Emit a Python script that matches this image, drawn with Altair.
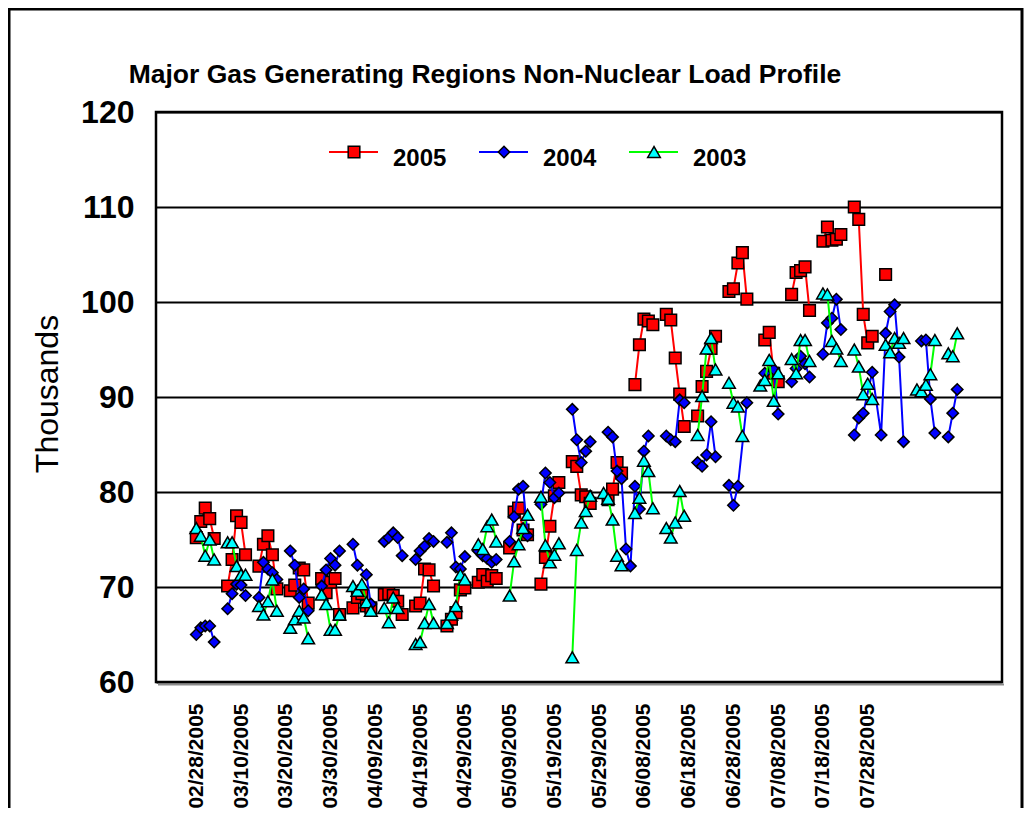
import altair as alt
import pandas as pd

FONT = "Liberation Sans"
TITLE = "Major Gas Generating Regions Non-Nuclear Load Profile"
Y_TITLE = "Thousands"

# ---- x tick labels (every 10 days) ----
tick_dates = ["02/28", "03/10", "03/20", "03/30", "04/09", "04/19", "04/29", "05/09",
              "05/19", "05/29", "06/08", "06/18", "06/28", "07/08", "07/18", "07/28"]
y_ticks = [60, 70, 80, 90, 100, 110, 120]

# ---- 2005 ----
dates_2005 = [
    "02/28", "03/01", "03/02", "03/03", "03/04",
    "03/07", "03/08", "03/09", "03/10", "03/11",
    "03/14", "03/15", "03/16", "03/17", "03/18",
    "03/21", "03/22", "03/23", "03/24", "03/25",
    "03/28", "03/29", "03/30", "03/31", "04/01",
    "04/04", "04/05", "04/06", "04/07", "04/08",
    "04/11", "04/12", "04/13", "04/14", "04/15",
    "04/18", "04/19", "04/20", "04/21", "04/22",
    "04/25", "04/26", "04/27", "04/28", "04/29",
    "05/02", "05/03", "05/04", "05/05", "05/06",
    "05/09", "05/10", "05/11", "05/12", "05/13",
    "05/16", "05/17", "05/18", "05/19", "05/20",
    "05/23", "05/24", "05/25", "05/26", "05/27",
    "05/31", "06/01", "06/02", "06/03",
    "06/06", "06/07", "06/08", "06/09", "06/10",
    "06/13", "06/14", "06/15", "06/16", "06/17",
    "06/20", "06/21", "06/22", "06/23", "06/24",
    "06/27", "06/28", "06/29", "06/30", "07/01",
    "07/05", "07/06", "07/07", "07/08",
    "07/11", "07/12", "07/13", "07/14", "07/15",
    "07/18", "07/19", "07/20", "07/21", "07/22",
    "07/25", "07/26", "07/27", "07/28", "07/29",
    "08/01"]
values_2005 = [
    75.2, 76.9, 78.3, 77.2, 75.1,
    70.1, 72.9, 77.5, 76.8, 73.4,
    72.2, 74.5, 75.4, 73.4, 69.8,
    69.6, 70.2, 72.0, 71.8, 68.3,
    70.9, 69.4, 70.5, 70.9, 67.1,
    67.8, 68.9, 69.3, 68.0, 67.8,
    69.2, 69.3, 69.1, 68.5, 67.1,
    68.0, 68.3, 71.9, 71.8, 70.1,
    65.9, 66.6, 67.3, 69.7, 69.9,
    70.5, 71.3, 70.6, 71.2, 70.9,
    74.1, 77.9, 78.3, 76.0, 75.5,
    70.3, 73.1, 76.4, 79.6, 81.0,
    83.2, 82.7, 79.7, 79.5, 78.8,
    79.2, 80.3, 83.1, 82.0,
    91.3, 95.5, 98.2, 98.0, 97.6,
    98.7, 98.1, 94.1, 90.3, 86.9,
    88.0, 91.1, 92.7, 95.1, 96.4,
    101.1, 101.4, 104.1, 105.2, 100.3,
    96.0, 96.8, 92.5, 91.6,
    100.8, 103.1, 103.3, 103.7, 99.1,
    106.4, 107.9, 106.5, 106.6, 107.1,
    110.0, 108.7, 98.7, 95.7, 96.4,
    102.9]

# ---- 2004 ----
dates_2004 = [
    "02/28", "03/01", "03/02", "03/03", "03/04",
    "03/07", "03/08", "03/09", "03/10", "03/11",
    "03/14", "03/15", "03/16", "03/17", "03/18",
    "03/21", "03/22", "03/23", "03/24", "03/25",
    "03/28", "03/29", "03/30", "03/31", "04/01",
    "04/04", "04/05", "04/07", "04/08",
    "04/11", "04/12", "04/13", "04/14", "04/15",
    "04/18", "04/19", "04/20", "04/21", "04/22",
    "04/25", "04/26", "04/27", "04/28", "04/29",
    "05/02", "05/03", "05/04", "05/05", "05/06",
    "05/09", "05/10", "05/11", "05/12", "05/13",
    "05/16", "05/17", "05/18", "05/19", "05/20",
    "05/23", "05/24", "05/25", "05/26", "05/27",
    "05/31", "06/01", "06/02", "06/03", "06/04",
    "06/05", "06/06", "06/07", "06/08", "06/09",
    "06/13", "06/14", "06/15", "06/16", "06/17",
    "06/20", "06/21", "06/22", "06/23", "06/24",
    "06/27", "06/28", "06/29", "07/01",
    "07/05", "07/07", "07/08",
    "07/11", "07/12", "07/13", "07/14", "07/15",
    "07/18", "07/19", "07/20", "07/21", "07/22",
    "07/25", "07/26", "07/27", "07/29", "07/31",
    "08/01", "08/02", "08/03", "08/04", "08/05",
    "08/09", "08/10", "08/11", "08/12",
    "08/15", "08/16", "08/17"]
values_2004 = [
    65.0, 65.7, 65.9, 65.9, 64.2,
    67.7, 69.3, 70.3, 70.2, 69.1,
    68.9, 72.6, 71.9, 71.5, 70.8,
    73.8, 72.3, 68.9, 69.8, 67.5,
    70.1, 71.8, 73.0, 72.3, 73.8,
    74.5, 72.3, 71.3, 68.2,
    74.8, 75.2, 75.7, 75.2, 73.3,
    72.9, 73.8, 74.3, 75.1, 74.8,
    74.7, 75.7, 72.1, 71.9, 73.2,
    73.8, 73.3, 73.0, 72.6, 72.9,
    74.8, 77.4, 80.3, 80.6, 75.4,
    78.7, 82.0, 81.0, 79.4, 79.9,
    88.7, 85.5, 83.1, 84.3, 85.3,
    86.3, 85.8, 82.2, 81.4, 74.0,
    72.2, 80.6, 78.2, 84.3, 85.9,
    85.9, 85.5, 85.3, 89.7, 89.4,
    83.1, 82.7, 83.9, 87.4, 83.7,
    80.7, 78.6, 80.6, 89.4,
    92.5, 92.9, 88.2,
    91.6, 93.0, 94.3, 93.5, 92.1,
    94.5, 97.8, 98.3, 100.3, 97.1,
    86.0, 87.8, 88.3, 92.6, 86.0,
    96.7, 99.0, 99.7, 94.2, 85.3,
    95.9, 96.0, 89.8, 86.2,
    85.8, 88.3, 90.8]

# ---- 2003 ----
dates_2003 = [
    "02/28", "03/01", "03/02", "03/03", "03/04",
    "03/07", "03/08", "03/09", "03/10", "03/11",
    "03/14", "03/15", "03/16", "03/17", "03/18",
    "03/21", "03/22", "03/23", "03/24", "03/25",
    "03/28", "03/29", "03/30", "03/31", "04/01",
    "04/04", "04/05", "04/06", "04/07", "04/08",
    "04/11", "04/12", "04/13", "04/14",
    "04/18", "04/19", "04/20", "04/21", "04/22",
    "04/25", "04/26", "04/27", "04/28", "04/29",
    "05/02", "05/03", "05/04", "05/05", "05/06",
    "05/09", "05/10", "05/11", "05/12", "05/13",
    "05/16", "05/17", "05/18", "05/19", "05/20",
    "05/23", "05/24", "05/25", "05/26", "05/27",
    "05/30", "05/31", "06/01", "06/02", "06/03",
    "06/06", "06/07", "06/08", "06/09", "06/10",
    "06/13", "06/14", "06/15", "06/16", "06/17",
    "06/20", "06/21", "06/22", "06/23", "06/24",
    "06/27", "06/28", "06/29", "06/30",
    "07/04", "07/05", "07/06", "07/07", "07/08",
    "07/11", "07/12", "07/13", "07/14", "07/15",
    "07/18", "07/19", "07/20", "07/21", "07/22",
    "07/25", "07/26", "07/27", "07/28", "07/29",
    "08/01", "08/02", "08/03", "08/04", "08/05",
    "08/08", "08/09", "08/10", "08/11", "08/12",
    "08/15", "08/16", "08/17"]
values_2003 = [
    76.2, 75.4, 73.3, 75.0, 72.9,
    74.7, 74.7, 72.2, 71.3, 71.3,
    68.0, 67.1, 68.5, 70.8, 67.5,
    65.7, 66.6, 67.5, 66.8, 64.6,
    69.2, 68.2, 65.5, 65.5, 67.1,
    70.1, 69.6, 70.3, 68.4, 67.5,
    67.8, 66.3, 68.9, 67.8,
    64.0, 64.2, 66.2, 68.2, 66.2,
    66.2, 67.1, 68.0, 71.3, 70.8,
    74.5, 74.0, 76.4, 77.1, 74.8,
    69.1, 72.7, 74.5, 76.2, 77.6,
    79.5, 74.4, 72.6, 73.4, 74.6,
    62.6, 73.9, 76.8, 78.0, 79.6,
    79.9, 79.3, 77.1, 73.3, 72.3,
    77.8, 79.4, 83.3, 82.2, 78.3,
    76.2, 75.2, 76.8, 80.1, 77.5,
    86.0, 90.1, 95.1, 96.2, 92.9,
    91.5, 89.4, 89.0, 85.9,
    91.2, 91.8, 93.9, 89.6, 92.5,
    94.0, 92.5, 96.0, 96.0, 93.8,
    100.9, 100.8, 95.9, 95.1, 93.8,
    95.0, 93.2, 90.3, 91.4, 89.8,
    95.5, 94.7, 96.2, 95.7, 96.2,
    90.8, 90.6, 91.3, 92.4, 96.0,
    94.6, 94.3, 96.7]

series_names = ["2005", "2004", "2003"]
line_colors = ["#FF0000", "#0000FF", "#00FF00"]
marker_fills = ["#FF0000", "#0000FF", "#00FFFF"]
marker_shapes = ["square", "diamond", "triangle-up"]
marker_sizes = [135, 130, 160]


def to_dates(md):
    return pd.to_datetime(["2005/" + d for d in md], format="%Y/%m/%d")


def dt(md):
    m, d = md.split("/")
    return alt.DateTime(year=2005, month=int(m), date=int(d))


def make_frame(dates, values):
    df = pd.DataFrame({"date": to_dates(dates), "value": values})
    # blank days (weekends / holidays) break the line, as in the original workbook
    gap = df["date"].diff().dt.days.fillna(1)
    df["seg"] = (gap > 2).cumsum()
    return df


frames = [
    make_frame(dates_2005, values_2005),
    make_frame(dates_2004, values_2004),
    make_frame(dates_2003, values_2003),
]

x_enc = alt.X(
    "date:T",
    scale=alt.Scale(domain=[dt("02/19"), dt("08/27")]),
    axis=alt.Axis(
        values=[dt(t) for t in tick_dates], format="%m/%d/%Y", labelAngle=270,
        labelFont=FONT, labelFontSize=21, labelFontWeight="bold", labelColor="black",
        labelPadding=21, labelOverlap=False, ticks=False, domain=False, grid=False,
        title=None),
)
y_enc = alt.Y(
    "value:Q",
    scale=alt.Scale(domain=[60, 120], nice=False, zero=False),
    axis=alt.Axis(
        values=y_ticks, labelFont=FONT, labelFontSize=32, labelFontWeight="bold",
        labelColor="black", labelPadding=22, ticks=False, domain=False, grid=True,
        gridColor="black", gridWidth=2, gridOpacity=1, title=None),
)

layers = []

# outer chart border
layers.append(
    alt.Chart(pd.DataFrame({"k": [0]})).mark_rect(
        fillOpacity=0, stroke="black", strokeWidth=3
    ).encode(x=alt.value(-147), x2=alt.value(866), y=alt.value(-103), y2=alt.value(900))
)
# plot area shadow under the bottom edge
layers.append(
    alt.Chart(pd.DataFrame({"k": [0]})).mark_rule(color="#8c8c8c", strokeWidth=2).encode(
        x=alt.value(2), x2=alt.value(848), y=alt.value(572.5))
)

for df, lc, mf, shp, sz in zip(frames, line_colors, marker_fills, marker_shapes, marker_sizes):
    base = alt.Chart(df).encode(x=x_enc, y=y_enc)
    layers.append(base.mark_line(color=lc, strokeWidth=2).encode(detail="seg:N"))
    layers.append(base.mark_point(shape=shp, filled=True, fill=mf, color=mf, stroke="black",
                                  strokeWidth=1.5, size=sz, opacity=1))

# title
layers.append(
    alt.Chart(pd.DataFrame({"t": [TITLE]})).mark_text(
        font=FONT, fontSize=26.5, fontWeight="bold", color="black",
        align="center", baseline="alphabetic"
    ).encode(text="t:N", x=alt.value(329), y=alt.value(-29))
)
# y axis title
layers.append(
    alt.Chart(pd.DataFrame({"t": [Y_TITLE]})).mark_text(
        font=FONT, fontSize=32, color="black", angle=270,
        align="center", baseline="middle"
    ).encode(text="t:N", x=alt.value(-108), y=alt.value(282))
)

# legend (inside plot area, top)
legend_line_x = [173, 323, 473]
for i, name in enumerate(series_names):
    x0 = legend_line_x[i]
    layers.append(
        alt.Chart(pd.DataFrame({"k": [0]})).mark_rule(color=line_colors[i], strokeWidth=2).encode(
            x=alt.value(x0), x2=alt.value(x0 + 49), y=alt.value(40))
    )
    layers.append(
        alt.Chart(pd.DataFrame({"k": [0]})).mark_point(
            shape=marker_shapes[i], filled=True, fill=marker_fills[i], color=marker_fills[i],
            stroke="black", strokeWidth=1.5, size=marker_sizes[i], opacity=1
        ).encode(x=alt.value(x0 + 25), y=alt.value(40))
    )
    layers.append(
        alt.Chart(pd.DataFrame({"t": [name]})).mark_text(
            font=FONT, fontSize=24, fontWeight="bold", color="black",
            align="left", baseline="alphabetic"
        ).encode(text="t:N", x=alt.value(x0 + 64), y=alt.value(54))
    )

chart = alt.layer(*layers).properties(
    width=846, height=570,
    padding={"left": 148, "top": 104, "right": 22, "bottom": 126},
    autosize=alt.AutoSizeParams(type="none"),
    background="white",
).configure_view(stroke="black", strokeWidth=2.5)

chart.save("out.html", embed_options={"renderer": "svg", "actions": False})
